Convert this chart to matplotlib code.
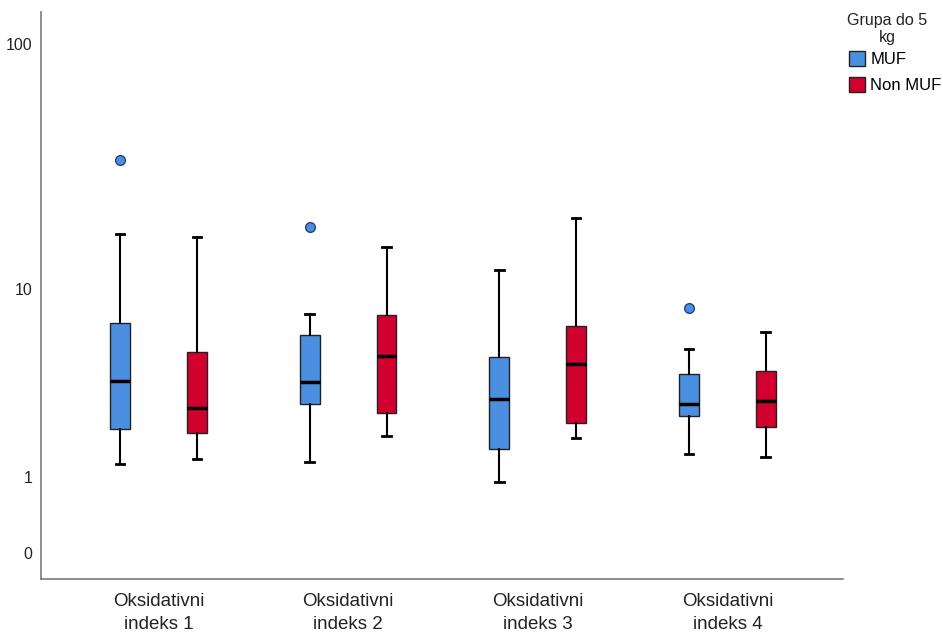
import matplotlib
matplotlib.use('Agg')
import matplotlib.pyplot as plt
from matplotlib.patches import Patch
import numpy as np

plt.rcParams['font.family'] = ['Liberation Sans', 'DejaVu Sans']

categories = ['Oksidativni\nindeks 1', 'Oksidativni\nindeks 2',
              'Oksidativni\nindeks 3', 'Oksidativni\nindeks 4']
groups = ['MUF', 'Non MUF']

# whislo, q1, med, q3, whishi, outliers
muf_stats = [
    [1.24, 2.09, 3.75, 7.02, 17.1, [34.3]],
    [1.29, 2.88, 3.73, 6.21, 7.71, [18.3]],
    [0.91, 1.58, 3.05, 4.90, 12.0, []],
    [1.45, 2.48, 2.85, 4.07, 5.34, [8.24]],
]
nonmuf_stats = [
    [1.35, 1.97, 2.73, 5.17, 16.5, []],
    [1.90, 2.57, 4.98, 7.65, 15.07, []],
    [1.83, 2.26, 4.53, 6.85, 19.8, []],
    [1.38, 2.13, 2.96, 4.22, 6.43, []],
]
yticks = [0, 1, 10, 100]

colors = ['#4A8FE0', '#D2002F']


def to_dicts(rows):
    out = []
    for r in rows:
        out.append(dict(whislo=r[0], q1=r[1], med=r[2], q3=r[3], whishi=r[4], fliers=r[5]))
    return out


# the value axis is log10(x + 1)
def fwd(x):
    return np.log10(np.maximum(np.asarray(x) + 1, 1e-6))


def inv(t):
    return 10 ** np.asarray(t) - 1


fig = plt.figure(figsize=(9.43, 6.37), dpi=100)
ax = fig.add_axes([41 / 943, 1 - 579 / 637, (843 - 41) / 943, (579 - 12) / 637])
ax.set_yscale('function', functions=(fwd, inv))

pos = np.arange(len(categories))
off = 0.2025
for k, rows in enumerate([muf_stats, nonmuf_stats]):
    p = pos - off if k == 0 else pos + off
    ax.bxp(to_dicts(rows), positions=p, widths=0.105, patch_artist=True,
           boxprops=dict(facecolor=colors[k], edgecolor='#222222', linewidth=1.0),
           medianprops=dict(color='black', linewidth=2.5),
           whiskerprops=dict(color='black', linewidth=1.5),
           capprops=dict(color='black', linewidth=2.0),
           capwidths=0.045,
           flierprops=dict(marker='o', markerfacecolor=colors[k], markeredgecolor='#2a3f7a',
                           markersize=7, markeredgewidth=1.0))

ax.set_xlim(-0.62, 3.61)
ax.set_ylim(inv(-0.102), inv(2.130))
ax.set_xticks(pos)
ax.set_xticklabels(categories, fontsize=13.5, color='#222222', linespacing=1.45)
ax.set_yticks(yticks)
ax.set_yticklabels([str(v) for v in yticks], fontsize=11.5, color='#222222')
ax.yaxis.set_minor_locator(matplotlib.ticker.NullLocator())
ax.tick_params(axis='y', length=0, pad=6)
ax.tick_params(axis='x', length=0, pad=10)
for s in ['top', 'right']:
    ax.spines[s].set_visible(False)
for s in ['left', 'bottom']:
    ax.spines[s].set_color('#7a7a7a')
    ax.spines[s].set_linewidth(1.2)

# legend title drawn on its own so the gap under it matches
fig.text(887 / 943, 1 - 29 / 637, 'Grupa do 5\nkg', ha='center', va='center',
         fontsize=11.5, linespacing=1.1, color='#222222')
handles = [Patch(facecolor=colors[i], edgecolor='#222222', label=groups[i]) for i in range(2)]
leg = fig.legend(handles=handles, loc='upper left',
                 bbox_to_anchor=(837 / 943, 1 - 39 / 637), frameon=False,
                 fontsize=12, handlelength=1.0, handleheight=1.0,
                 handletextpad=0.3, labelspacing=0.6, borderpad=0.2)

fig.savefig('out.png', dpi=100)
